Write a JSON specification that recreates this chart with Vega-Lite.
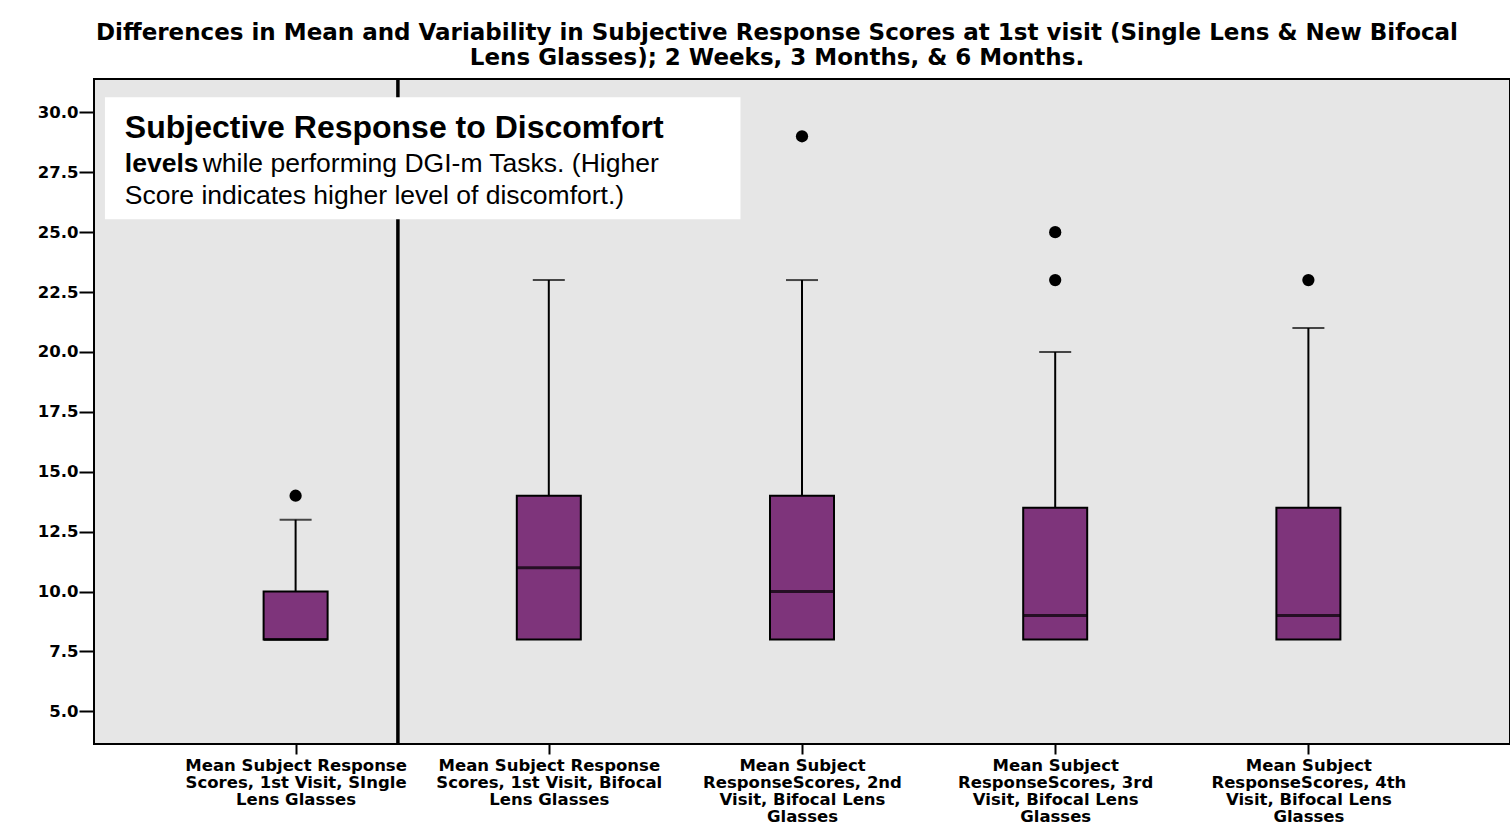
{
  "$schema": "https://vega.github.io/schema/vega-lite/v6.json",
  "autosize": "none",
  "width": 1416,
  "height": 665,
  "padding": {"left": 94, "top": 79, "right": 0, "bottom": 83},
  "background": "white",
  "title": {
    "text": ["Differences in Mean and Variability in Subjective Response Scores at 1st visit (Single Lens & New Bifocal", "Lens Glasses); 2 Weeks, 3 Months, & 6 Months."],
    "font": "DejaVu Sans",
    "fontSize": 23,
    "fontWeight": "bold",
    "color": "black",
    "anchor": "middle",
    "dx": -25,
    "offset": 7,
    "lineHeight": 25
  },
  "config": {
    "view": {"fill": "#e6e6e6", "stroke": "black", "strokeWidth": 2},
    "axis": {"grid": false, "domain": false, "labelFont": "DejaVu Sans", "labelFontWeight": "bold", "labelColor": "black", "tickColor": "black", "title": null}
  },
  "datasets": {
    "boxes": [
      {"pos": 1, "lo": 8, "q1": 8, "med": 8, "q3": 10, "hi": 13},
      {"pos": 2, "lo": 8, "q1": 8, "med": 11, "q3": 14, "hi": 23},
      {"pos": 3, "lo": 8, "q1": 8, "med": 10, "q3": 14, "hi": 23},
      {"pos": 4, "lo": 8, "q1": 8, "med": 9, "q3": 13.5, "hi": 20},
      {"pos": 5, "lo": 8, "q1": 8, "med": 9, "q3": 13.5, "hi": 21}
    ],
    "outliers": [
      {"pos": 1, "value": 14},
      {"pos": 3, "value": 29},
      {"pos": 4, "value": 23},
      {"pos": 4, "value": 25},
      {"pos": 5, "value": 23}
    ],
    "divider": [{"pos": 1.404}],
    "note_box": [{"x1": 0.247, "x2": 2.757, "y1": 25.54, "y2": 30.63}],
    "note_head": [{"x": 0.3255, "y": 28.92, "text": "Subjective Response to Discomfort"}],
    "note_bold": [{"x": 0.3255, "y": 27.5, "text": "levels"}],
    "note_plain": [
      {"x": 0.633, "y": 27.5, "text": "while performing DGI-m Tasks. (Higher"},
      {"x": 0.3255, "y": 26.17, "text": "Score indicates higher level of discomfort.)"}
    ]
  },
  "layer": [
    {
      "data": {"name": "boxes"},
      "mark": {"type": "rule", "color": "black", "strokeWidth": 2},
      "encoding": {
        "x": {"field": "pos", "type": "quantitative", "scale": {"domain": [0.2235, 5.7765], "nice": false, "zero": false},
          "axis": {"values": [1, 2, 3, 4, 5], "tickSize": 10, "tickWidth": 2, "labelFontSize": 16.5, "labelLineHeight": 17, "labelPadding": 3, "labelLimit": 400, "labelAngle": 0, "labelAlign": "center", "labelBaseline": "top", "labelOverlap": false,
            "labelExpr": "[['Mean Subject Response','Scores, 1st Visit, SIngle','Lens Glasses'],['Mean Subject Response','Scores, 1st Visit, Bifocal','Lens Glasses'],['Mean Subject','ResponseScores, 2nd','Visit, Bifocal Lens','Glasses'],['Mean Subject','ResponseScores, 3rd','Visit, Bifocal Lens','Glasses'],['Mean Subject','ResponseScores, 4th','Visit, Bifocal Lens','Glasses']][datum.value - 1]"}},
        "y": {"field": "lo", "type": "quantitative", "scale": {"domain": [3.64, 31.39], "nice": false, "zero": false},
          "axis": {"values": [5, 7.5, 10, 12.5, 15, 17.5, 20, 22.5, 25, 27.5, 30], "format": ".1f", "tickSize": 15, "tickWidth": 2, "labelFontSize": 16.5, "labelPadding": 1}},
        "y2": {"field": "hi"}
      }
    },
    {
      "data": {"name": "boxes"},
      "mark": {"type": "bar", "size": 64, "fill": "#7e347b", "stroke": "black", "strokeWidth": 2},
      "encoding": {
        "x": {"field": "pos", "type": "quantitative"},
        "y": {"field": "q1", "type": "quantitative"},
        "y2": {"field": "q3"}
      }
    },
    {
      "data": {"name": "boxes"},
      "mark": {"type": "tick", "orient": "horizontal", "size": 32, "thickness": 2, "color": "black"},
      "encoding": {
        "x": {"field": "pos", "type": "quantitative"},
        "y": {"field": "hi", "type": "quantitative"}
      }
    },
    {
      "data": {"name": "boxes"},
      "mark": {"type": "tick", "orient": "horizontal", "size": 64, "thickness": 3, "color": "black"},
      "encoding": {
        "x": {"field": "pos", "type": "quantitative"},
        "y": {"field": "med", "type": "quantitative"}
      }
    },
    {
      "data": {"name": "outliers"},
      "mark": {"type": "point", "filled": true, "color": "black", "opacity": 1, "size": 150},
      "encoding": {
        "x": {"field": "pos", "type": "quantitative"},
        "y": {"field": "value", "type": "quantitative"}
      }
    },
    {
      "data": {"name": "divider"},
      "mark": {"type": "rule", "color": "black", "strokeWidth": 3.5},
      "encoding": {"x": {"field": "pos", "type": "quantitative"}}
    },
    {
      "data": {"name": "note_box"},
      "mark": {"type": "rect", "fill": "white"},
      "encoding": {
        "x": {"field": "x1", "type": "quantitative"},
        "x2": {"field": "x2"},
        "y": {"field": "y1", "type": "quantitative"},
        "y2": {"field": "y2"}
      }
    },
    {
      "data": {"name": "note_head"},
      "mark": {"type": "text", "align": "left", "baseline": "alphabetic", "font": "Liberation Sans", "fontWeight": "bold", "fontSize": 32, "color": "black"},
      "encoding": {
        "x": {"field": "x", "type": "quantitative"},
        "y": {"field": "y", "type": "quantitative"},
        "text": {"field": "text"}
      }
    },
    {
      "data": {"name": "note_bold"},
      "mark": {"type": "text", "align": "left", "baseline": "alphabetic", "font": "Liberation Sans", "fontWeight": "bold", "fontSize": 26.5, "color": "black"},
      "encoding": {
        "x": {"field": "x", "type": "quantitative"},
        "y": {"field": "y", "type": "quantitative"},
        "text": {"field": "text"}
      }
    },
    {
      "data": {"name": "note_plain"},
      "mark": {"type": "text", "align": "left", "baseline": "alphabetic", "font": "Liberation Sans", "fontSize": 26.5, "color": "black"},
      "encoding": {
        "x": {"field": "x", "type": "quantitative"},
        "y": {"field": "y", "type": "quantitative"},
        "text": {"field": "text"}
      }
    }
  ]
}
